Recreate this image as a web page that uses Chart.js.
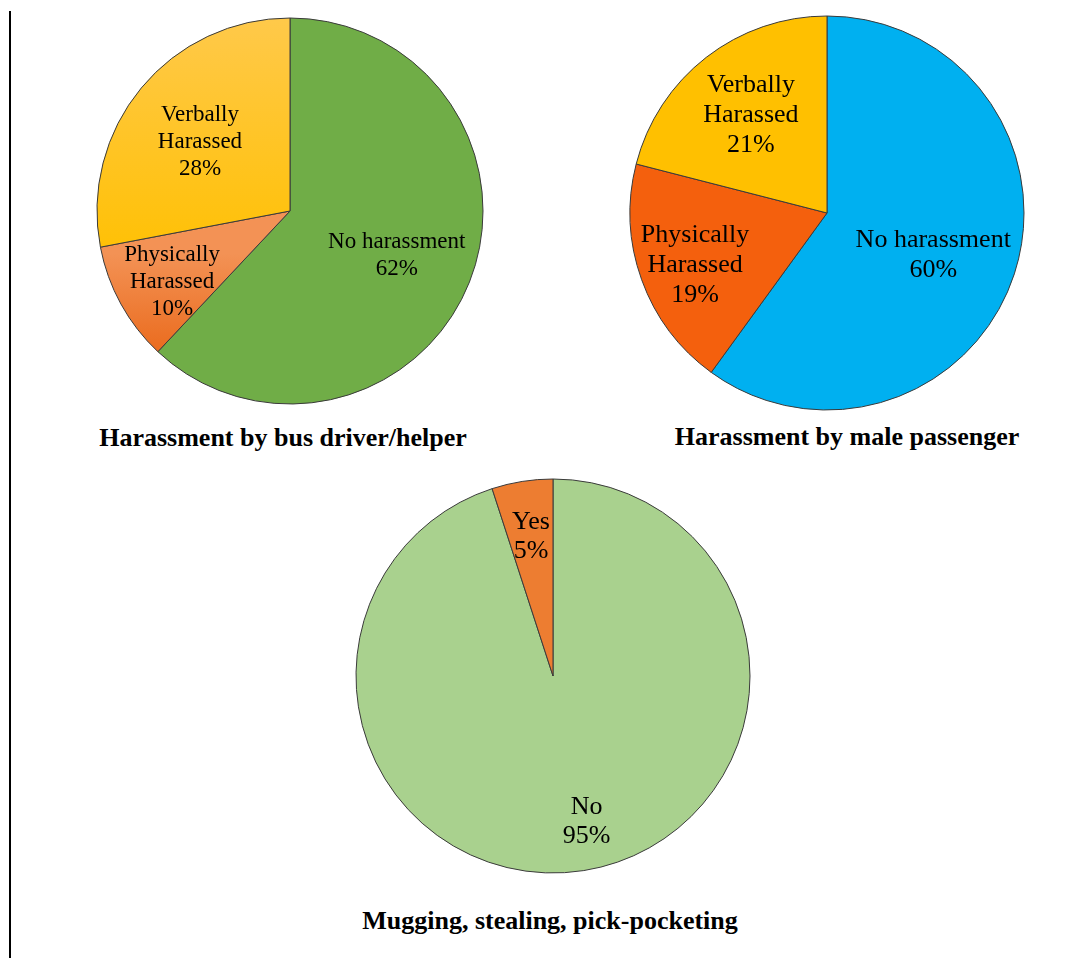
<!DOCTYPE html>
<html>
<head>
<meta charset="utf-8">
<title>Harassment and theft on buses</title>
<script src="https://cdn.jsdelivr.net/npm/chart.js@4/dist/chart.umd.min.js"></script>
<style>
  html, body { margin: 0; padding: 0; background: #fff; }
  body { width: 1086px; height: 958px; position: relative; overflow: hidden; }
  .rule { position: absolute; left: 9px; top: 11px; width: 2px; height: 947px; background: #000; }
  .pie { position: absolute; }
  .title {
    position: absolute; font-family: "Liberation Serif", "Times New Roman", serif;
    font-weight: bold; font-size: 26px; color: #000; white-space: nowrap;
    transform: translate(-50%, -50%);
  }
</style>
</head>
<body>
<div class="rule"></div>

<canvas id="pieDriver" class="pie" width="400" height="400" style="left:90px;top:11px;width:400px;height:400px"></canvas>
<canvas id="piePassenger" class="pie" width="410" height="410" style="left:622px;top:8px;width:410px;height:410px"></canvas>
<canvas id="pieMugging" class="pie" width="410" height="410" style="left:348px;top:471px;width:410px;height:410px"></canvas>

<div class="title" style="left:283px;top:438px">Harassment by bus driver/helper</div>
<div class="title" style="left:847px;top:437px">Harassment by male passenger</div>
<div class="title" style="left:550px;top:921px">Mugging, stealing, pick-pocketing</div>

<script>
// Slices run clockwise from 12 o'clock.
const driverCategories = [['No harassment'], ['Physically', 'Harassed'], ['Verbally', 'Harassed']];
const driverValues = [62, 10, 28];

const passengerCategories = [['No harassment'], ['Physically', 'Harassed'], ['Verbally', 'Harassed']];
const passengerValues = [60, 19, 21];

const muggingCategories = [['No'], ['Yes']];
const muggingValues = [95, 5];

// Writes each slice's name and percentage inside the slice.
// place[i] = [fraction of the radius, angular nudge in degrees].
const sliceLabels = {
  id: 'sliceLabels',
  afterDatasetsDraw(chart, args, opts) {
    const ctx = chart.ctx;
    const meta = chart.getDatasetMeta(0);
    const values = chart.data.datasets[0].data;
    const total = values.reduce((a, b) => a + b, 0);
    ctx.save();
    ctx.fillStyle = '#000';
    ctx.textAlign = 'center';
    ctx.textBaseline = 'middle';
    ctx.font = opts.size + 'px "Liberation Serif", "Times New Roman", serif';
    meta.data.forEach((arc, i) => {
      const p = arc.getProps(['x', 'y', 'startAngle', 'endAngle', 'outerRadius'], true);
      const [frac, nudge] = opts.place[i];
      const mid = (p.startAngle + p.endAngle) / 2 + nudge * Math.PI / 180;
      const r = p.outerRadius * frac;
      const cx = p.x + Math.cos(mid) * r;
      const cy = p.y + Math.sin(mid) * r;
      const lines = chart.data.labels[i].concat([Math.round(values[i] / total * 100) + '%']);
      const lh = opts.lineHeight;
      const y0 = cy - (lines.length - 1) * lh / 2;
      lines.forEach((t, k) => ctx.fillText(t, cx, y0 + k * lh));
    });
    ctx.restore();
  }
};

// Fill for each slice: a flat colour, or [c0, c1, fromFrac, toFrac] for a
// vertical shade set in units of the pie radius from its centre.
function sliceFill(fills) {
  return context => {
    const f = fills[(context.dataIndex || 0) % fills.length];
    if (typeof f === 'string') return f;
    const [c0, c1, fromFrac, toFrac] = f;
    const chart = context.chart;
    const area = chart.chartArea;
    if (!area) return c1;
    const r = context.dataset.radius;
    const cy = (area.top + area.bottom) / 2;
    const g = chart.ctx.createLinearGradient(0, cy + fromFrac * r, 0, cy + toFrac * r);
    g.addColorStop(0, c0);
    g.addColorStop(1, c1);
    return g;
  };
}

function makePie(id, labels, values, fills, radius, labelOpts) {
  return new Chart(document.getElementById(id), {
    type: 'pie',
    data: {
      labels: labels,
      datasets: [{
        data: values,
        backgroundColor: sliceFill(fills),
        borderColor: '#3a3a3a',
        borderWidth: 1,
        hoverOffset: 0,
        radius: radius
      }]
    },
    options: {
      responsive: false,
      animation: false,
      events: [],
      layout: { padding: 0 },
      plugins: {
        legend: { display: false },
        tooltip: { enabled: false },
        sliceLabels: labelOpts
      }
    },
    plugins: [sliceLabels]
  });
}

makePie('pieDriver', driverCategories, driverValues, [
  '#70AD47',
  ['#F39255', '#EA6A1C', 0.22, 0.75],
  ['#FFC94A', '#FFC000', -1, 0.3]
], 193, { size: 23, lineHeight: 27, place: [[0.60, 1.2], [0.713, -2.2], [0.588, -2.1]] });

makePie('piePassenger', passengerCategories, passengerValues,
  ['#00B0F0', '#F4600D', '#FFC000'],
  197, { size: 26, lineHeight: 30, place: [[0.58, 3.6], [0.72, -1.7], [0.63, 0]] });

makePie('pieMugging', muggingCategories, muggingValues,
  ['#A9D18E', '#ED7D31'],
  197, { size: 26, lineHeight: 29, place: [[0.76, -4], [0.715, 0]] });
</script>
</body>
</html>
